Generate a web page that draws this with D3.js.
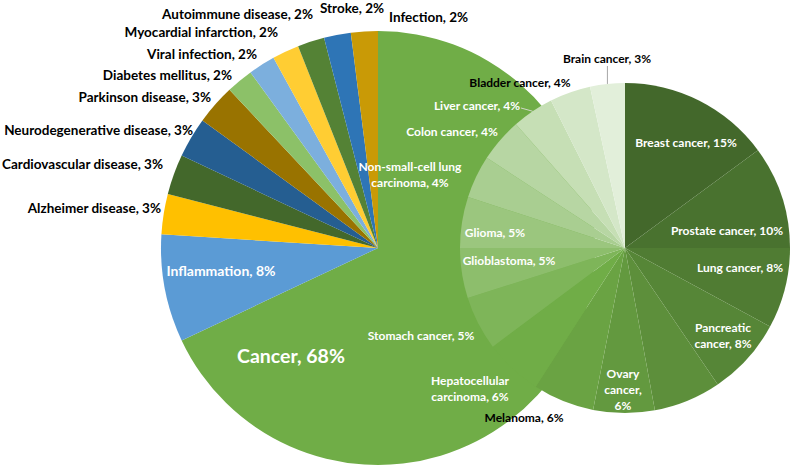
<!DOCTYPE html>
<html>
<head>
<meta charset="utf-8">
<script src="https://cdn.jsdelivr.net/npm/d3@7"></script>
<style>
  html, body { margin: 0; padding: 0; background: #ffffff; }
  svg { display: block; }
  text { font-family: Lato, "Open Sans", sans-serif; font-weight: 700; }
</style>
</head>
<body>
<svg id="chart" width="791" height="467"></svg>
<script>
// ---------------- DATA ----------------
const mainCategories = ["Cancer", "Inflammation", "Alzheimer disease", "Cardiovascular disease",
  "Neurodegenerative disease", "Parkinson disease", "Diabetes mellitus", "Viral infection",
  "Myocardial infarction", "Autoimmune disease", "Stroke", "Infection"];
const mainValues = [68, 8, 3, 3, 3, 3, 2, 2, 2, 2, 2, 2];
const mainColors = ["#70AD47", "#5B9BD5", "#FFC000", "#43682B", "#255E91", "#997300",
  "#8CC168", "#7CAFDD", "#FFCD33", "#548235", "#2E75B6", "#C99A06"];

const subCategories = ["Breast cancer", "Prostate cancer", "Lung cancer", "Pancreatic cancer", "",
  "Ovary cancer", "Melanoma", "Hepatocellular carcinoma", "Stomach cancer", "Glioblastoma", "Glioma",
  "Non-small-cell lung carcinoma", "Colon cancer", "Liver cancer", "Bladder cancer", "Brain cancer"];
const subValues = [14.9, 10.1, 7.9, 7.6, 6.6, 6.0, 6.0, 5.7, 5.3, 4.9, 5.0, 4.2, 4.3, 4.1, 4.0, 3.4];
const subLabelPct = [15, 10, 8, 8, null, 6, 6, 6, 5, 5, 5, 4, 4, 4, 4, 3];

// ---------------- LAYOUT ----------------
const W = 791, H = 467;
const mainPie = { cx: 378, cy: 248, r: 217 };
const subPie = { cx: 625, cy: 248, r: 165 };

// label placement (x, y = anchor point; wrap = words per line)
const mainLabelLayout = [
  { x: 291, y: 355, anchor: "middle", size: 19.5, fill: "#ffffff" },
  { x: 221, y: 270, anchor: "middle", size: 14, fill: "#ffffff" },
  { x: 161, y: 208, anchor: "end", size: 13.5, fill: "#000000" },
  { x: 163, y: 164, anchor: "end", size: 13.5, fill: "#000000" },
  { x: 193, y: 130, anchor: "end", size: 13.5, fill: "#000000" },
  { x: 211, y: 97, anchor: "end", size: 13.5, fill: "#000000" },
  { x: 232, y: 75, anchor: "end", size: 13.5, fill: "#000000" },
  { x: 257, y: 54, anchor: "end", size: 13.5, fill: "#000000" },
  { x: 278, y: 32, anchor: "end", size: 13.5, fill: "#000000" },
  { x: 313, y: 14, anchor: "end", size: 13.5, fill: "#000000" },
  { x: 352, y: 8, anchor: "middle", size: 13.5, fill: "#000000" },
  { x: 389, y: 17, anchor: "start", size: 13.5, fill: "#000000" }
];
const subLabelLayout = [
  { x: 686, y: 142, anchor: "middle", fill: "#ffffff" },
  { x: 727, y: 230, anchor: "middle", fill: "#ffffff" },
  { x: 740, y: 267, anchor: "middle", fill: "#ffffff" },
  { x: 723, y: 327, anchor: "middle", fill: "#ffffff", wrap: [1, 2] },
  null,
  { x: 623, y: 373, anchor: "middle", fill: "#ffffff", wrap: [1, 1, 1] },
  { x: 524, y: 417, anchor: "middle", fill: "#000000" },
  { x: 470, y: 380, anchor: "middle", fill: "#ffffff", wrap: [1, 2] },
  { x: 421, y: 335, anchor: "middle", fill: "#ffffff" },
  { x: 509, y: 260, anchor: "middle", fill: "#ffffff" },
  { x: 495, y: 232, anchor: "middle", fill: "#ffffff" },
  { x: 410, y: 166, anchor: "middle", fill: "#ffffff", wrap: [2, 2] },
  { x: 452, y: 131, anchor: "middle", fill: "#ffffff" },
  { x: 477, y: 105, anchor: "middle", fill: "#ffffff", leader: "#d0d8c8" },
  { x: 520, y: 82, anchor: "middle", fill: "#000000" },
  { x: 607, y: 58, anchor: "middle", fill: "#000000", leader: "#a6a6a6" }
];

// ---------------- DRAW ----------------
const svg = d3.select("#chart");

const pie = d3.pie().sort(null).value(d => d).startAngle(0).endAngle(2 * Math.PI);

// main pie
const mainArcs = pie(mainValues);
const mainArc = d3.arc().innerRadius(0).outerRadius(mainPie.r);
const gMain = svg.append("g").attr("transform", `translate(${mainPie.cx},${mainPie.cy})`);
gMain.selectAll("path").data(mainArcs).join("path")
  .attr("d", mainArc)
  .attr("fill", (d, i) => mainColors[i]);

// sub pie colors: monochromatic shades of green
const subColor = i => {
  const n = subValues.length;
  const mid = 7;
  if (i <= mid) return d3.interpolateRgb("#43682B", "#70AD47")(i / mid);
  return d3.interpolateRgb("#70AD47", "#E2EFDA")((i - mid) / (n - 1 - mid));
};

const subArcs = pie(subValues);
const subArc = d3.arc().innerRadius(0).outerRadius(subPie.r);
const gSub = svg.append("g").attr("transform", `translate(${subPie.cx},${subPie.cy})`);
gSub.selectAll("path").data(subArcs).join("path")
  .attr("d", subArc)
  .attr("fill", (d, i) => subColor(i));

// label helper
function drawLabel(text, lay, size, lineH) {
  const words = text.split(" ");
  let lines = [text];
  if (lay.wrap) {
    lines = [];
    let k = 0;
    lay.wrap.forEach(c => { lines.push(words.slice(k, k + c).join(" ")); k += c; });
    if (k < words.length) lines[lines.length - 1] += " " + words.slice(k).join(" ");
  }
  const t = svg.append("text")
    .attr("x", lay.x).attr("y", lay.y)
    .attr("text-anchor", lay.anchor)
    .attr("dominant-baseline", "central")
    .attr("font-size", size)
    .attr("fill", lay.fill);
  lines.forEach((ln, j) => {
    t.append("tspan").attr("x", lay.x).attr("dy", j === 0 ? 0 : lineH).text(ln);
  });
}

// main labels
mainCategories.forEach((c, i) => {
  const lay = mainLabelLayout[i];
  drawLabel(`${c}, ${mainValues[i]}%`, lay, lay.size, 16);
});

// sub leaders + labels
const outerPoint = (d, r) => {
  const a = (d.startAngle + d.endAngle) / 2;
  return [subPie.cx + r * Math.sin(a), subPie.cy - r * Math.cos(a)];
};
subCategories.forEach((c, i) => {
  const lay = subLabelLayout[i];
  if (!lay || subLabelPct[i] == null) return;
  if (lay.leader) {
    const [px, py] = outerPoint(subArcs[i], subPie.r);
    let sx, sy;
    if (Math.abs(px - lay.x) < 5) { sx = px; sy = lay.y + 8; }
    else { sx = lay.x + 44; sy = lay.y + 3; }
    svg.append("line")
      .attr("x1", sx).attr("y1", sy).attr("x2", px).attr("y2", py)
      .attr("stroke", lay.leader).attr("stroke-width", 1);
  }
  drawLabel(`${c}, ${subLabelPct[i]}%`, lay, 12, 16);
});
</script>
</body>
</html>
